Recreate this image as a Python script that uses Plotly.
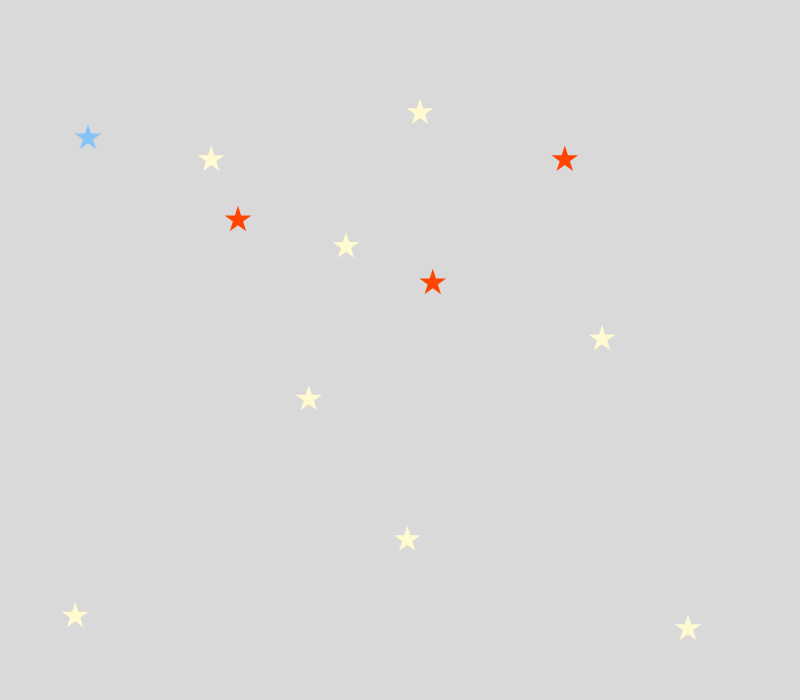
import plotly.graph_objects as go

# star positions (x 0-100 across, y 0-100 up)
x_vals = [11.0, 26.4, 29.75, 52.5, 70.6, 43.25, 54.1, 75.25, 38.6, 50.9, 9.4, 86.0]
y_vals = [80.3, 77.2, 68.6, 83.9, 77.2, 64.8, 59.6, 51.6, 43.0, 22.9, 12.0, 10.2]
colors = ["#87c4f8", "#fffad0", "#ff4500", "#fffad0", "#ff4500", "#fffad0",
          "#ff4500", "#fffad0", "#fffad0", "#fffad0", "#fffad0", "#fffad0"]

fig = go.Figure(go.Scatter(
    x=x_vals, y=y_vals, mode="markers",
    marker=dict(symbol="star", size=20, color=colors, line=dict(width=0)),
    hoverinfo="none",
))
fig.update_layout(
    width=800, height=700,
    margin=dict(l=0, r=0, t=0, b=0),
    paper_bgcolor="#d9d9d9", plot_bgcolor="#d9d9d9",
    showlegend=False,
    xaxis=dict(range=[0, 100], visible=False, fixedrange=True),
    yaxis=dict(range=[0, 100], visible=False, fixedrange=True),
)
fig.write_html("out.html", config={"displayModeBar": False})
